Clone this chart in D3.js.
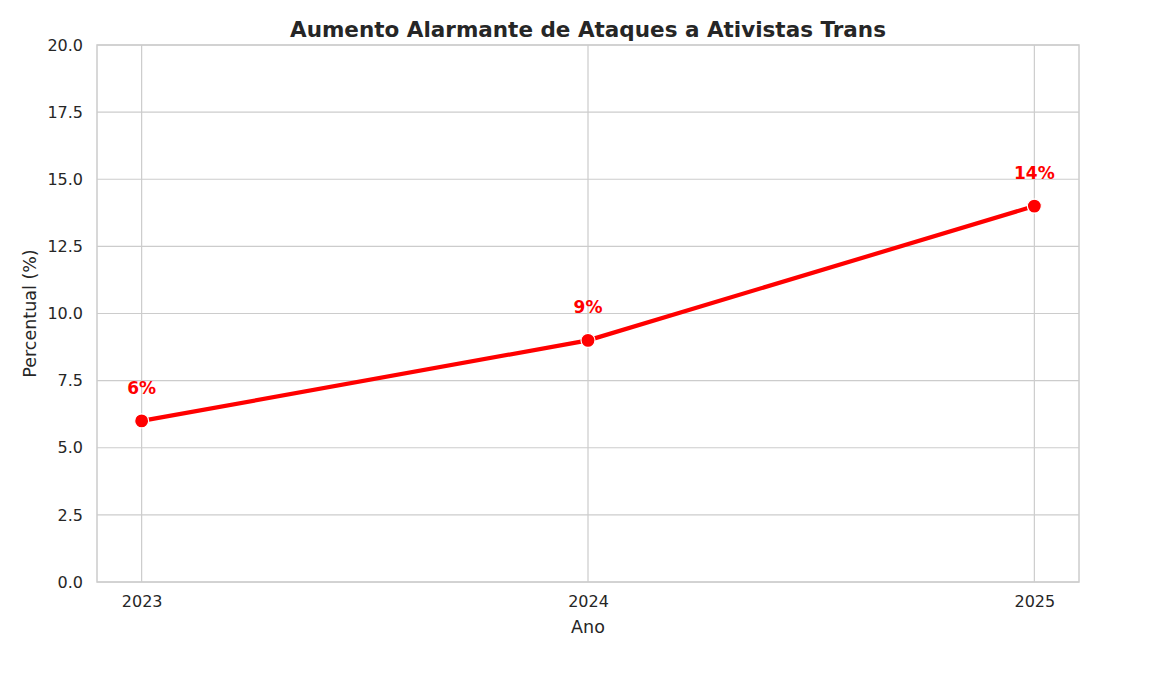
<!DOCTYPE html>
<html>
<head>
  <meta charset="utf-8">
  <title>Aumento Alarmante de Ataques a Ativistas Trans</title>
  <script src="https://cdn.jsdelivr.net/npm/d3@7"></script>
  <style>
    body { margin: 0; background: #fff; }
    svg text { font-family: "DejaVu Sans", "Verdana", sans-serif; }
    .grid line { stroke: #cccccc; stroke-width: 1.2; }
    .tick text { fill: #262626; }
  </style>
</head>
<body>
  <div id="chart"></div>
  <script>
    const years = [2023, 2024, 2025];
    const percents = [6, 9, 14];
    const yTicks = [0, 2.5, 5, 7.5, 10, 12.5, 15, 17.5, 20];

    const W = 1152, H = 677;
    const margin = {top: 45, right: 73, bottom: 95, left: 97};
    const width = W - margin.left - margin.right;
    const height = H - margin.top - margin.bottom;
    const font = "DejaVu Sans";

    const svg = d3.select("#chart").append("svg")
      .attr("width", W).attr("height", H)
      .attr("font-family", font);

    const g = svg.append("g")
      .attr("transform", `translate(${margin.left},${margin.top})`);

    const x = d3.scaleLinear().domain([2022.9, 2025.1]).range([0, width]);
    const y = d3.scaleLinear().domain([0, 20]).range([height, 0]);

    // grid
    g.append("g").attr("class", "grid")
      .selectAll("line").data(yTicks).join("line")
        .attr("x1", 0).attr("x2", width)
        .attr("y1", d => y(d)).attr("y2", d => y(d));
    g.append("g").attr("class", "grid")
      .selectAll("line").data(years).join("line")
        .attr("x1", d => x(d)).attr("x2", d => x(d))
        .attr("y1", 0).attr("y2", height);

    // axes
    const xAxis = g.append("g")
      .attr("transform", `translate(0,${height})`)
      .call(d3.axisBottom(x).tickValues(years).tickFormat(d3.format("d")).tickSize(0).tickPadding(14));
    const yAxis = g.append("g")
      .call(d3.axisLeft(y).tickValues(yTicks).tickFormat(d3.format(".1f")).tickSize(0).tickPadding(14));
    [xAxis, yAxis].forEach(a => {
      a.attr("font-family", font).attr("font-size", 16);
      a.select(".domain").remove();
    });

    // frame
    g.append("rect")
      .attr("width", width).attr("height", height)
      .attr("fill", "none").attr("stroke", "#cccccc").attr("stroke-width", 1.5);

    // line
    const pts = years.map((yr, i) => [yr, percents[i]]);
    g.append("path")
      .datum(pts)
      .attr("fill", "none")
      .attr("stroke", "#ff0000")
      .attr("stroke-width", 4.2)
      .attr("d", d3.line().x(d => x(d[0])).y(d => y(d[1])));

    g.selectAll("circle.pt").data(pts).join("circle")
      .attr("class", "pt")
      .attr("cx", d => x(d[0])).attr("cy", d => y(d[1]))
      .attr("r", 7)
      .attr("fill", "#ff0000")
      .attr("stroke", "#ffffff").attr("stroke-width", 1.2);

    g.selectAll("text.lbl").data(pts).join("text")
      .attr("class", "lbl")
      .attr("x", d => x(d[0])).attr("y", d => y(d[1]) - 27)
      .attr("text-anchor", "middle")
      .attr("fill", "#ff0000")
      .attr("font-weight", "bold")
      .attr("font-size", 17)
      .text(d => d[1] + "%");

    // titles
    svg.append("text")
      .attr("x", margin.left + width / 2).attr("y", 37)
      .attr("text-anchor", "middle")
      .attr("font-weight", "bold").attr("font-size", 21.5)
      .attr("fill", "#262626")
      .text("Aumento Alarmante de Ataques a Ativistas Trans");

    svg.append("text")
      .attr("x", margin.left + width / 2).attr("y", 633)
      .attr("text-anchor", "middle")
      .attr("font-size", 17.5).attr("fill", "#262626")
      .text("Ano");

    svg.append("text")
      .attr("transform", `translate(36,${margin.top + height / 2}) rotate(-90)`)
      .attr("text-anchor", "middle")
      .attr("font-size", 17.5).attr("fill", "#262626")
      .text("Percentual (%)");
  </script>
</body>
</html>
